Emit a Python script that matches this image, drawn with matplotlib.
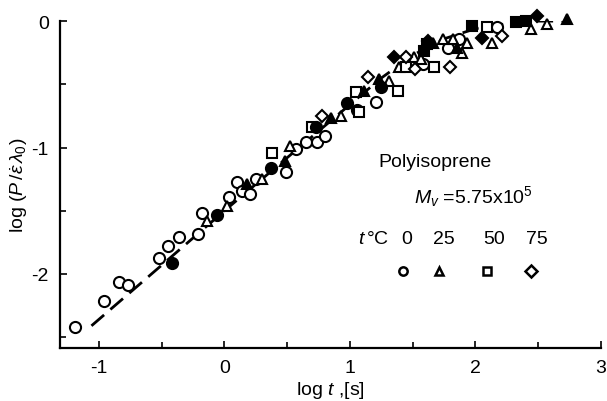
import matplotlib
matplotlib.use('Agg')
import matplotlib.pyplot as plt
from matplotlib.ticker import MultipleLocator

plt.rcParams['font.family'] = ['Liberation Sans', 'DejaVu Sans']
plt.rcParams['mathtext.fontset'] = 'custom'
plt.rcParams['mathtext.rm'] = 'Liberation Sans'
plt.rcParams['mathtext.it'] = 'Liberation Sans:italic'

# 0 degC, circles
c_open_x = [-1.19, -0.96, -0.84, -0.77, -0.52, -0.45, -0.36, -0.21, -0.18, 0.04, 0.10, 0.14,
            0.20, 0.25, 0.49, 0.57, 0.65, 0.74, 0.80, 1.06, 1.21, 1.58, 1.78, 1.87, 2.17]
c_open_y = [-2.42, -2.21, -2.06, -2.09, -1.87, -1.78, -1.71, -1.68, -1.52, -1.39, -1.27, -1.34,
            -1.37, -1.25, -1.19, -1.01, -0.96, -0.96, -0.91, -0.70, -0.64, -0.34, -0.21, -0.14, -0.05]
c_fill_x = [-0.42, -0.06, 0.37, 0.73, 0.98, 1.25]
c_fill_y = [-1.91, -1.53, -1.16, -0.84, -0.65, -0.52]

# 25 degC, triangles
t_open_x = [-0.14, 0.02, 0.30, 0.52, 0.93, 1.31, 1.39, 1.51, 1.57, 1.74, 1.82, 1.89, 1.93, 2.13, 2.44, 2.57]
t_open_y = [-1.58, -1.46, -1.25, -0.99, -0.75, -0.47, -0.36, -0.28, -0.30, -0.14, -0.14, -0.25, -0.17, -0.17, -0.06, -0.02]
t_fill_x = [0.18, 0.48, 0.85, 1.11, 1.23, 1.66, 1.85, 2.73]
t_fill_y = [-1.29, -1.11, -0.77, -0.55, -0.46, -0.17, -0.21, 0.02]

# 50 degC, squares
s_open_x = [0.38, 0.70, 1.05, 1.07, 1.38, 1.45, 1.67, 2.09]
s_open_y = [-1.04, -0.84, -0.56, -0.72, -0.55, -0.36, -0.36, -0.05]
s_fill_x = [1.59, 1.61, 1.97, 2.32, 2.40]
s_fill_y = [-0.24, -0.18, -0.04, -0.01, 0.0]

# 75 degC, diamonds
d_open_x = [0.78, 1.14, 1.45, 1.52, 1.80, 2.21]
d_open_y = [-0.75, -0.44, -0.28, -0.38, -0.36, -0.12]
d_fill_x = [1.35, 1.62, 2.05, 2.49]
d_fill_y = [-0.28, -0.16, -0.13, 0.04]

# master curve (dashed)
curve_x = [-1.06, -0.5, 0.0, 0.5, 1.0, 1.25, 1.5, 1.75, 2.0, 2.25, 2.5, 2.75]
curve_y = [-2.41, -1.93, -1.50, -1.08, -0.66, -0.45, -0.27, -0.14, -0.06, -0.02, 0.0, 0.0]

temps = ['0', '25', '50', '75']
temp_x = [1.45, 1.75, 2.15, 2.49]
key_x = [1.42, 1.71, 2.09, 2.44]
marks = ['o', '^', 's', 'D']
sizes = [8, 7.5, 7, 6.5]

fig = plt.figure(figsize=(6.07, 4.02), dpi=100)
ax = fig.add_axes([0.099, 0.132, 0.891, 0.813])

ax.plot(curve_x, curve_y, color='black', lw=2, dashes=(6, 3), zorder=1)

series = [(c_open_x, c_open_y, c_fill_x, c_fill_y),
          (t_open_x, t_open_y, t_fill_x, t_fill_y),
          (s_open_x, s_open_y, s_fill_x, s_fill_y),
          (d_open_x, d_open_y, d_fill_x, d_fill_y)]
for (ox, oy, fx, fy), m, ms in zip(series, marks, sizes):
    ax.plot(ox, oy, m, ms=ms, mfc='white', mec='black', mew=1.5, ls='none', clip_on=False, zorder=2)
    ax.plot(fx, fy, m, ms=ms, mfc='black', mec='black', mew=1.5, ls='none', clip_on=False, zorder=3)

# key
ax.text(1.23, -1.11, 'Polyisoprene', fontsize=14, va='center', ha='left')
ax.text(1.51, -1.38, r'$M_v$ =5.75x10$^5$', fontsize=14, va='center', ha='left')
ax.text(1.31, -1.72, r'$t\,$°C', fontsize=14, va='center', ha='right')
for x, s in zip(temp_x, temps):
    ax.text(x, -1.72, s, fontsize=14, va='center', ha='center')
for x, m in zip(key_x, marks):
    ax.plot([x], [-1.98], m, ms=6, mfc='white', mec='black', mew=1.8, ls='none')

ax.set_xlim(-1.31, 3.0)
ax.set_ylim(-2.585, 0.0)
ax.xaxis.set_minor_locator(MultipleLocator(0.5))
ax.yaxis.set_minor_locator(MultipleLocator(0.5))
ax.set_xticks([-1, 0, 1, 2, 3])
ax.set_xticklabels(['-1', '0', '1', '2', '3'])
ax.set_yticks([-2, -1, 0])
ax.set_yticklabels(['-2', '-1', '0'])

ax.spines['top'].set_visible(False)
ax.spines['right'].set_visible(False)
for sp in ['left', 'bottom']:
    ax.spines[sp].set_linewidth(1.6)
ax.tick_params(which='both', direction='in', width=1.2, labelsize=14)
ax.tick_params(which='major', length=5, pad=8)
ax.tick_params(which='minor', length=4)

ax.set_xlabel(r'log $t$ ,[s]', fontsize=14, labelpad=2)
ax.set_ylabel(r'log $(P\,/\dot{\varepsilon}\,\lambda_0)$', fontsize=14, labelpad=1)

fig.savefig('out.png', dpi=100)
